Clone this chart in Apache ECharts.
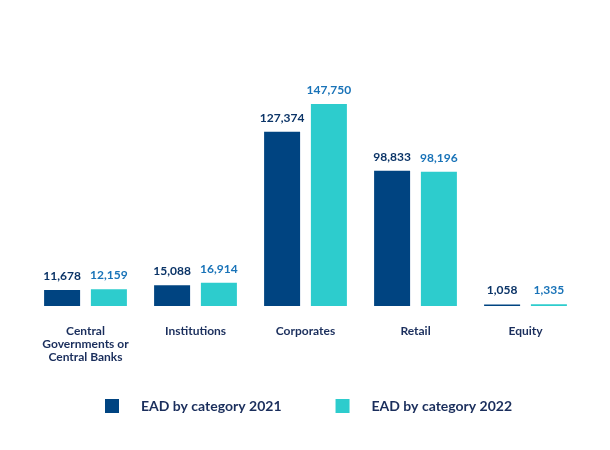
<!DOCTYPE html>
<html><head><meta charset="utf-8">
<script src="https://cdn.jsdelivr.net/npm/echarts@6/dist/echarts.min.js"></script>
<style>html,body{margin:0;padding:0;background:#fff}#c{width:610px;height:450px}</style>
</head><body><div id="c"></div>
<script>
const categories = ['Central\nGovernments or\nCentral Banks', 'Institutions', 'Corporates', 'Retail', 'Equity'];
const ead2021 = [11678, 15088, 127374, 98833, 1058];
const ead2022 = [12159, 16914, 147750, 98196, 1335];
const seriesNames = ['EAD by category 2021', 'EAD by category 2022'];

const FONT = 'Lato';
const chart = echarts.init(document.getElementById('c'), null, {renderer: 'canvas'});
const fmt = p => p.value.toLocaleString('en-US');
chart.setOption({
  animation: false,
  textStyle: {fontFamily: FONT},
  grid: {left: 30.5, right: 29.5, top: 100.9, bottom: 144},
  legend: {
    top: 394, left: 100,
    itemWidth: 14, itemHeight: 14, itemGap: 54,
    icon: 'rect',
    textStyle: {fontFamily: FONT, fontWeight: 'bold', fontSize: 14, color: '#1a2e5c', padding: [0, 0, 0, 17]},
    data: seriesNames
  },
  xAxis: {
    type: 'category', data: categories,
    axisLine: {show: false}, axisTick: {show: false},
    axisLabel: {fontFamily: FONT, fontWeight: 'bold', fontSize: 12, color: '#1a2e5c', margin: 19, lineHeight: 13, interval: 0}
  },
  yAxis: {type: 'value', min: 0, max: 150000, show: false, splitLine: {show: false}},
  series: [
    {name: seriesNames[0], type: 'bar', data: ead2021, barWidth: 36, barGap: '30%',
     itemStyle: {color: '#004481'},
     label: {show: true, position: 'top', distance: 8, formatter: fmt, fontFamily: FONT, fontWeight: 'bold', fontSize: 12, color: '#0b3467'}},
    {name: seriesNames[1], type: 'bar', data: ead2022, barWidth: 36,
     itemStyle: {color: '#2dcccd'},
     label: {show: true, position: 'top', distance: 8, formatter: fmt, fontFamily: FONT, fontWeight: 'bold', fontSize: 12, color: '#1973b8'}}
  ]
});
</script></body></html>
